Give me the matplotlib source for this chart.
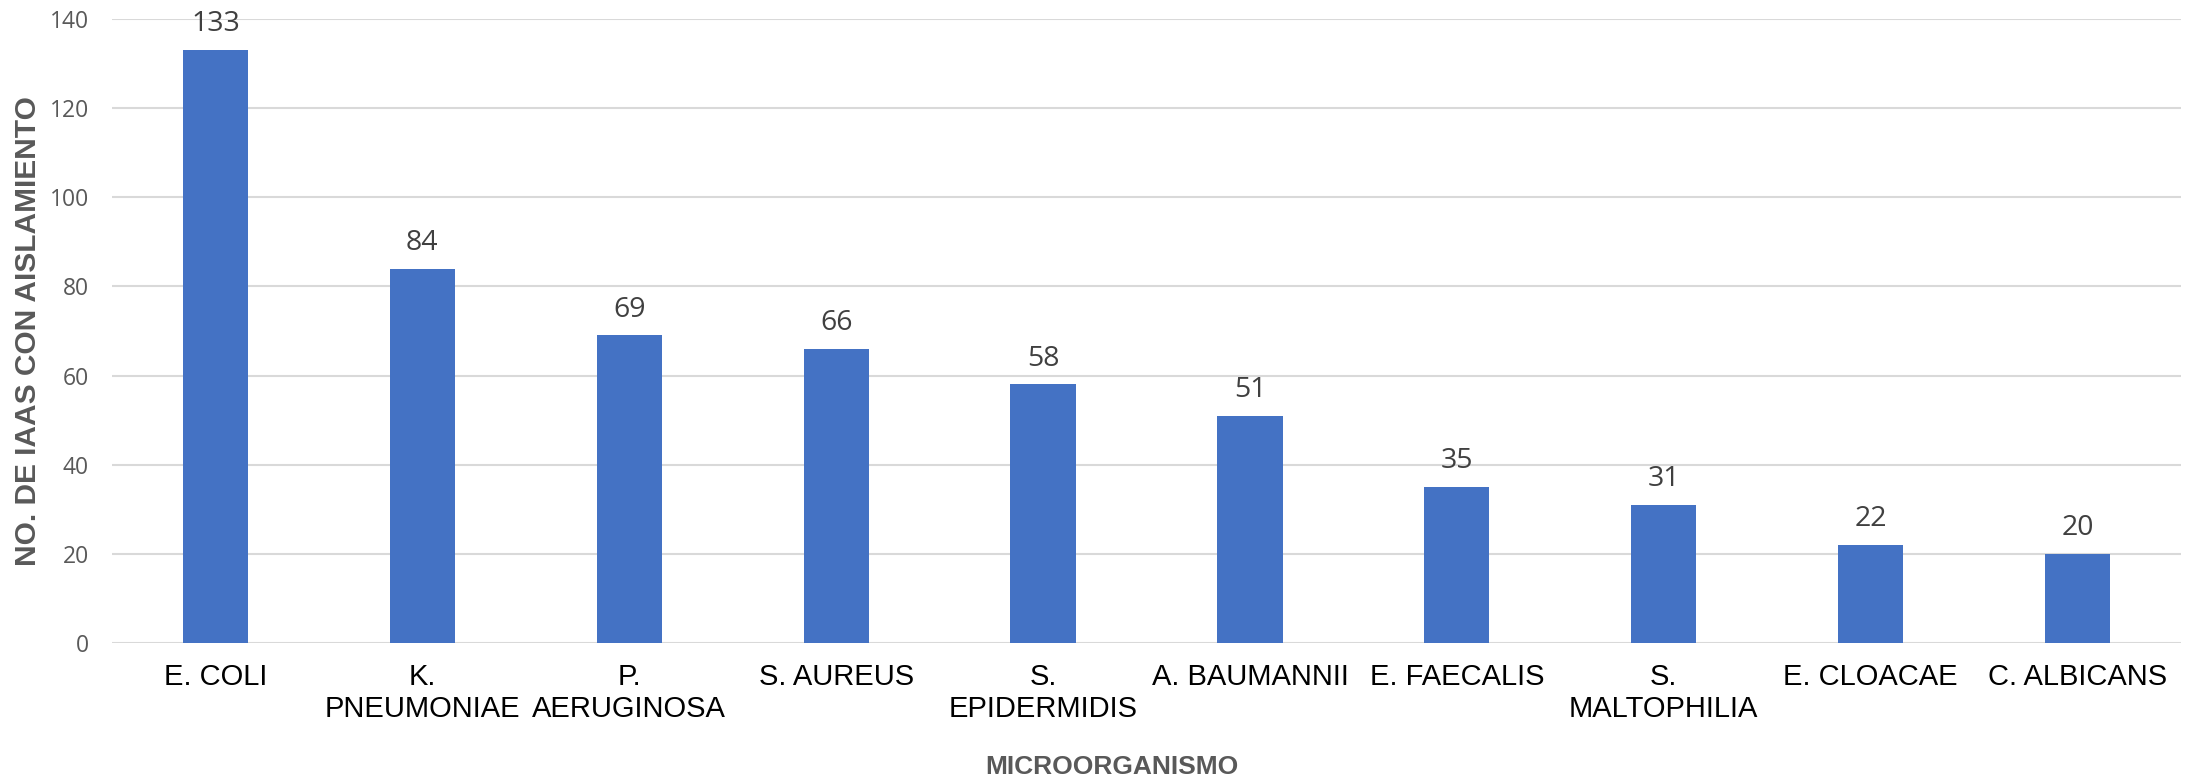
import matplotlib.pyplot as plt
import numpy as np

organismos = [
    "E. COLI",
    "K.\nPNEUMONIAE",
    "P.\nAERUGINOSA",
    "S. AUREUS",
    "S.\nEPIDERMIDIS",
    "A. BAUMANNII",
    "E. FAECALIS",
    "S.\nMALTOPHILIA",
    "E. CLOACAE",
    "C. ALBICANS",
]
aislamientos = [133, 84, 69, 66, 58, 51, 35, 31, 22, 20]
yticks = [0, 20, 40, 60, 80, 100, 120, 140]

BAR_COLOR = "#4472C4"
GRID_COLOR = "#D9D9D9"


def main():
    fig = plt.figure(figsize=(21.98, 7.78), dpi=100)
    ax = fig.add_axes([112 / 2198, 1 - 643 / 778, (2181 - 112) / 2198, (643 - 19) / 778])

    xs = np.arange(len(organismos))
    ax.bar(xs, aislamientos, width=0.315, color=BAR_COLOR, zorder=2)
    ax.set_xlim(-0.5, len(organismos) - 0.5)
    ax.set_ylim(0, 140)

    for x, v in zip(xs, aislamientos):
        ax.annotate(str(v), (x, v), xytext=(0, 13.5), textcoords="offset points",
                    ha="center", va="baseline", fontsize=20.5, color="#404040",
                    family=["Open Sans", "DejaVu Sans"])

    ax.set_yticks(yticks)
    ax.set_yticklabels([str(t) for t in yticks], fontsize=16.5, color="#595959",
                       family=["Open Sans", "DejaVu Sans"])
    ax.set_xticks(xs)
    ax.set_xticklabels(organismos, fontsize=21, color="black", family="Liberation Sans",
                       linespacing=1.18)
    ax.tick_params(axis="y", length=0, pad=16.5)
    ax.tick_params(axis="x", length=0, pad=14.5)

    ax.grid(axis="y", color=GRID_COLOR, linewidth=1.5, zorder=0)
    ax.set_axisbelow(True)
    for s in ax.spines.values():
        s.set_visible(False)

    # the x title sits a little left of the plot centre in the original
    ax.set_xlabel("MICROORGANISMO", fontsize=19, fontweight="bold", color="#595959",
                  family="Liberation Sans")
    ax.xaxis.label.set_va("center")
    ax.xaxis.set_label_coords(0.4833, -0.199)
    ax.set_ylabel("NO. DE IAAS CON AISLAMIENTO", fontsize=21.5, fontweight="bold", color="#595959",
                  family="Liberation Sans")
    ax.yaxis.label.set_va("center")
    ax.yaxis.set_label_coords(-0.0406, 0.5)

    fig.savefig("out.png", dpi=100)


if __name__ == "__main__":
    main()
